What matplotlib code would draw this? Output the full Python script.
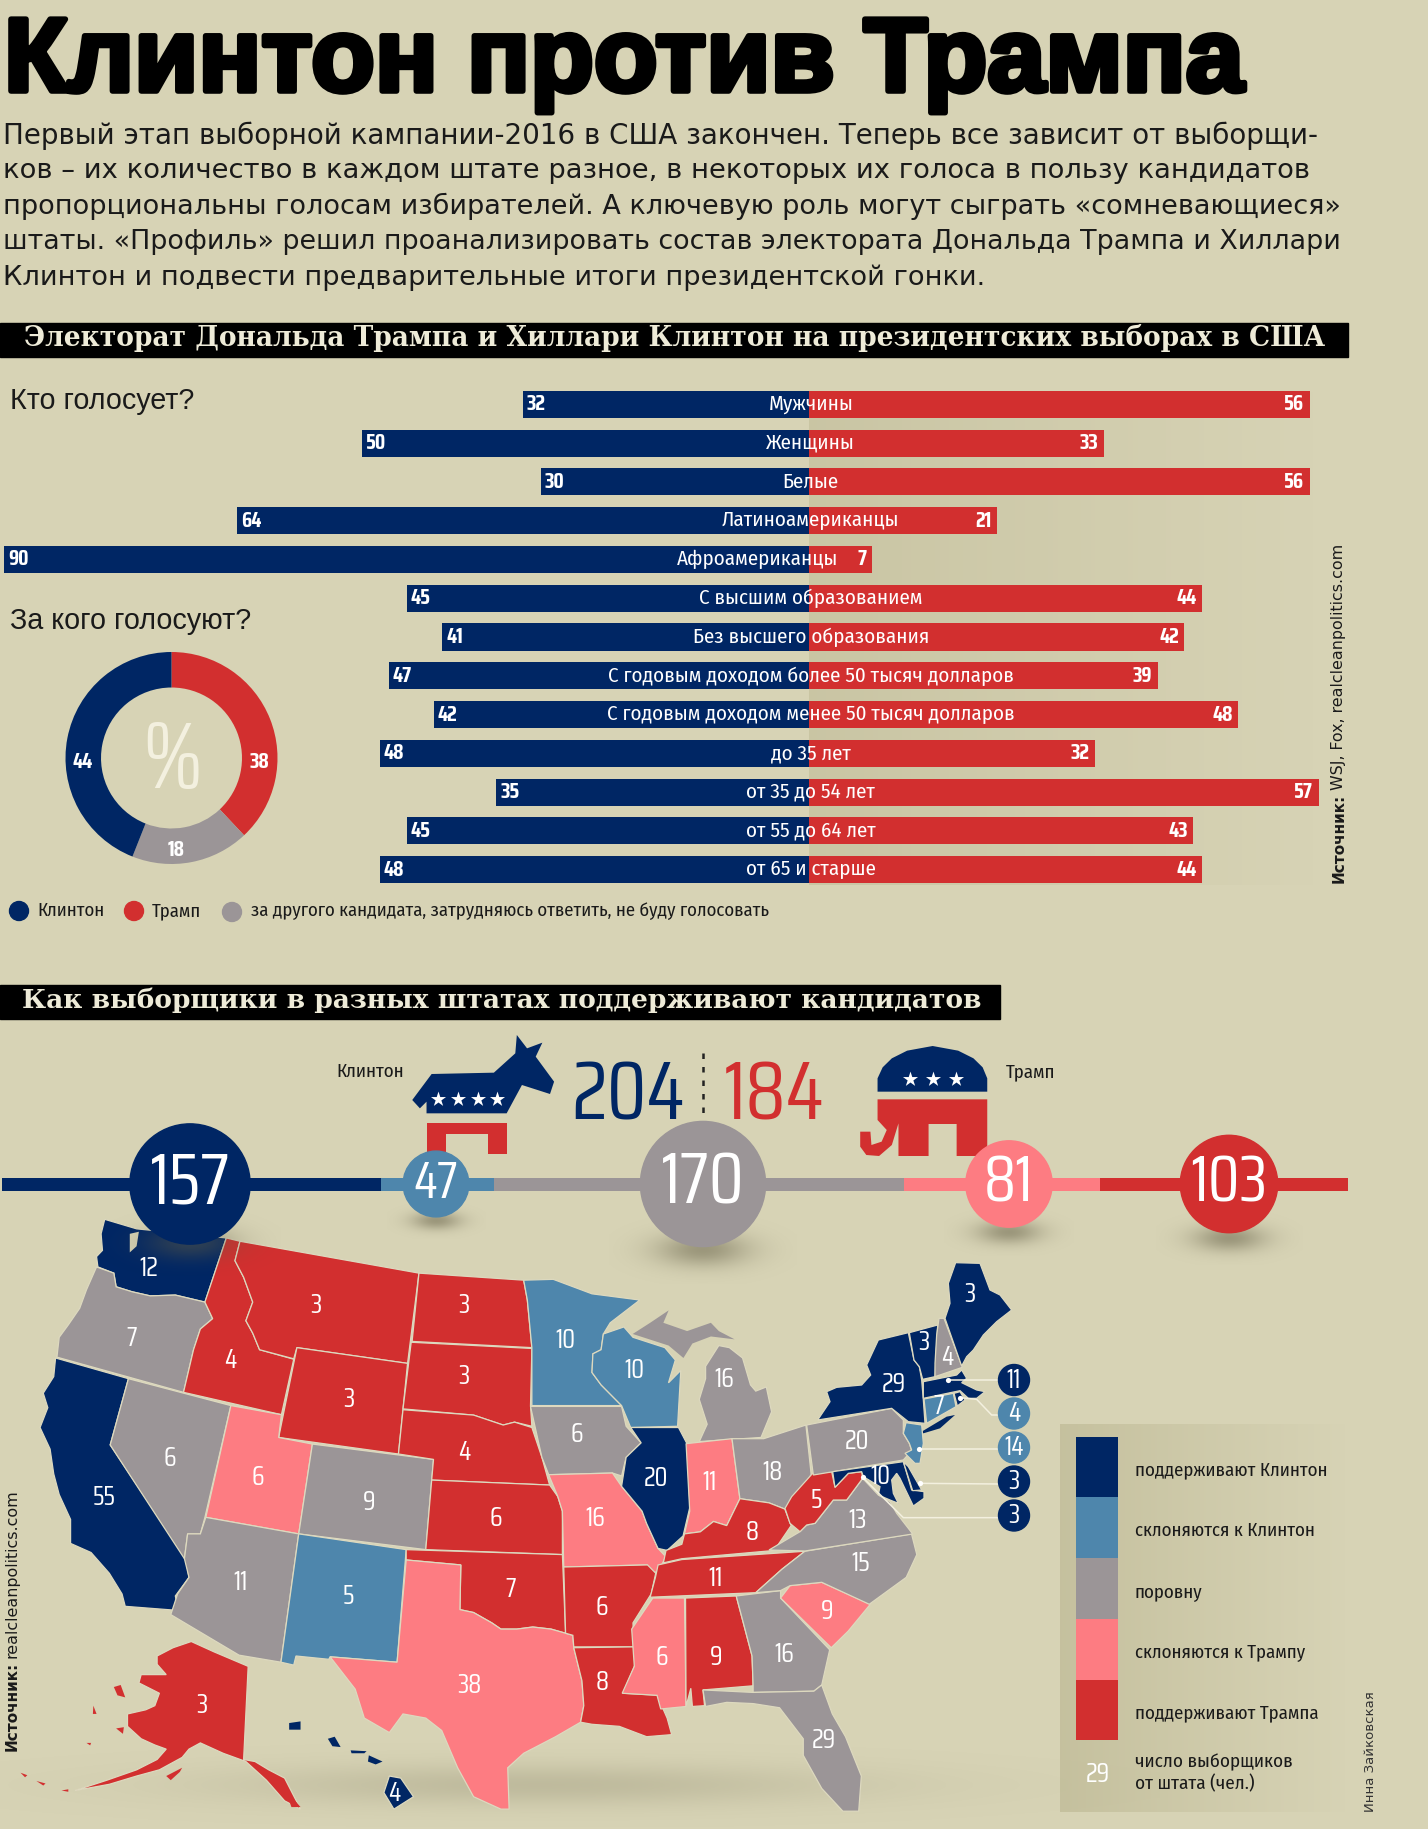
import numpy as np
import matplotlib
matplotlib.use('Agg')
import matplotlib.pyplot as plt
from matplotlib.patches import Polygon, Circle, Rectangle
import matplotlib.patheffects as pe

# data
groups = ['Мужчины', 'Женщины', 'Белые', 'Латиноамериканцы', 'Афроамериканцы', 'С высшим образованием',
          'Без высшего образования', 'С годовым доходом более 50 тысяч долларов',
          'С годовым доходом менее 50 тысяч долларов', 'до 35 лет', 'от 35 до 54 лет', 'от 55 до 64 лет', 'от 65 и старше']
clinton = [32, 50, 30, 64, 90, 45, 41, 47, 42, 48, 35, 45, 48]
trump = [56, 33, 56, 21, 7, 44, 42, 39, 48, 32, 57, 43, 44]
donut_vals = [38, 18, 44]
level_vals = [157, 47, 170, 81, 103]
level_names = ['поддерживают Клинтон', 'склоняются к Клинтон', 'поровну', 'склоняются к Трампу', 'поддерживают Трампа']
total_clinton = 204
total_trump = 184

state_names = ['WA', 'OR', 'CA', 'NV', 'ID', 'MT', 'WY', 'UT', 'CO', 'AZ', 'NM', 'ND', 'SD', 'NE', 'KS', 'OK', 'TX',
               'MN', 'IA', 'MO', 'AR', 'LA', 'WI', 'IL', 'AK', 'HI',
               'MI', 'IN', 'OH', 'KY', 'TN', 'MS', 'AL', 'GA', 'SC', 'NC', 'VA', 'WV', 'PA', 'NY', 'NJ', 'MD', 'DE',
               'VT', 'NH', 'ME', 'MA', 'CT', 'RI', 'FL']
state_votes = [12, 7, 55, 6, 4, 3, 3, 6, 9, 11, 5, 3, 3, 4, 6, 7, 38,
               10, 6, 16, 6, 8, 10, 20, 3, 4,
               16, 11, 18, 8, 11, 6, 9, 16, 9, 15, 13, 5, 20, 29, 14, 10, 3,
               3, 4, 3, 11, 7, 4, 29]
# 0 Clinton, 1 leaning Clinton, 2 even, 3 leaning Trump, 4 Trump
state_level = [0, 2, 0, 2, 4, 4, 4, 3, 2, 2, 1, 4, 4, 4, 4, 4, 3,
               1, 2, 3, 4, 4, 1, 0, 4, 0,
               2, 3, 2, 4, 4, 3, 4, 2, 3, 2, 2, 4, 2, 0, 1, 0, 0,
               0, 2, 0, 0, 1, 0, 2]
side_votes = [11, 4, 14, 3, 3]
side_level = [0, 1, 1, 0, 0]

bg = '#d7d3b5'
navy = '#002664'
blue = '#4e86ac'
grey = '#9b9597'
pink = '#fd7c82'
red = '#d22f2f'
ink = '#1a1a1a'
level_cols = [navy, blue, grey, pink, red]

text_font = ['Fira Sans Condensed', 'PT Sans Narrow', 'Roboto']
digit_font = ['Saira Condensed', 'Barlow Condensed', 'Roboto']

W, H = 1428, 1829
fig = plt.figure(figsize=(W / 100, H / 100), dpi=100, facecolor=bg)


def px_axes(z):
    a = fig.add_axes([0, 0, 1, 1], zorder=z)
    a.set_xlim(0, W)
    a.set_ylim(H, 0)
    a.set_autoscale_on(False)
    a.axis('off')
    a.patch.set_alpha(0)
    return a


ax = px_axes(0)
top = px_axes(3)


def z1(p):
    return [(x / 2.196, 1180 + y / 2.416) for x, y in p]


def z2(p):
    return [(600 + x / 1.894, 1180 + y / 2.416) for x, y in p]


def z3(p):
    return [(300 + x / 1.96, 1020 + y / 3) for x, y in p]


def z4(p):
    return [(780 + x / 3, 1260 + y / 3) for x, y in p]


def shadow(a, cx, cy, rx, ry, alpha, col=(0.38, 0.36, 0.26), z=1):
    xx, yy = np.meshgrid(np.linspace(-1, 1, 80), np.linspace(-1, 1, 80))
    img = np.zeros((80, 80, 4))
    img[..., :3] = col
    img[..., 3] = alpha * np.exp(-(xx ** 2 + yy ** 2) * 4)
    a.imshow(img, extent=(cx - rx, cx + rx, cy + ry, cy - ry), aspect='auto', zorder=z, interpolation='bilinear')


def fade(a, x0, x1, y0, y1, alpha, z=0.5, col=(0.72, 0.70, 0.55)):
    img = np.zeros((2, 100, 4))
    img[..., :3] = col
    img[..., 3] = np.linspace(alpha, 0, 100)
    a.imshow(img, extent=(x0, x1, y1, y0), aspect='auto', zorder=z, interpolation='bilinear')


# header
ax.text(4, 91, 'Клинтон против Трампа', family='Liberation Sans', weight='bold', fontsize=75.2, color='black', va='baseline',
        path_effects=[pe.withStroke(linewidth=4, foreground='black')])
intro = ['Первый этап выборной кампании-2016 в США закончен. Теперь все зависит от выборщи-',
         'ков – их количество в каждом штате разное, в некоторых их голоса в пользу кандидатов',
         'пропорциональны голосам избирателей. А ключевую роль могут сыграть «сомневающиеся»',
         'штаты. «Профиль» решил проанализировать состав электората Дональда Трампа и Хиллари',
         'Клинтон и подвести предварительные итоги президентской гонки.']
intro_size = [20, 19.7, 19.55, 19.4, 19.65]
for i, line in enumerate(intro):
    ax.text(3, 136 + i * 35.4, line, family='DejaVu Sans', fontsize=intro_size[i], color=ink, va='center')

ax.add_patch(Rectangle((0, 323), 1348, 34, color='black', zorder=1))
ax.text(24, 338, 'Электорат Дональда Трампа и Хиллари Клинтон на президентских выборах в США', family='DejaVu Serif',
        weight='bold', fontsize=19.1, color='#eeebd8', va='center', zorder=2)
ax.add_patch(Rectangle((0, 985), 1000, 34, color='black', zorder=1))
ax.text(22, 1000, 'Как выборщики в разных штатах поддерживают кандидатов', family='DejaVu Serif',
        weight='bold', fontsize=19.05, color='#eeebd8', va='center', zorder=2)

ax.text(10, 401, 'Кто голосует?', family='Liberation Sans', fontsize=20.7, color=ink, va='center')
ax.text(10, 621, 'За кого голосуют?', family='Liberation Sans', fontsize=20.7, color=ink, va='center')

# bars
fade(ax, 809, 1320, 392, 885, 0.42)
ax_b = fig.add_axes([0, 1 - 889 / H, 1, 504 / H], zorder=1)
ax_b.patch.set_alpha(0)
ax_b.set_xlim(-809 / 8.94, (W - 809) / 8.94)
ax_b.set_ylim(12.5, -0.5)
ax_b.axis('off')
y = np.arange(len(groups))
ax_b.barh(y, -np.array(clinton), height=0.7, color=navy)
ax_b.barh(y, trump, height=0.7, color=red)
for i in y:
    ax_b.text(-clinton[i] + 0.45, i, str(clinton[i]), color='white', family=digit_font, weight='bold', fontsize=15.5, va='center', ha='left')
    ax_b.text(trump[i] - 0.6, i, str(trump[i]), color='white', family=digit_font, weight='bold', fontsize=15.5, va='center', ha='right')
    # long African American label sits left, so the value 7 stays free
    shift = -5.8 if trump[i] < 10 else 0.2
    ax_b.text(shift, i, groups[i], color='white', family=text_font, fontsize=15.1, va='center', ha='center')

# donut
ax_d = fig.add_axes([(171.5 - 106) / W, 1 - (758 + 106) / H, 212 / W, 212 / H], zorder=1)
ax_d.pie(donut_vals, colors=[red, grey, navy], startangle=90, counterclock=False, radius=1, wedgeprops={'width': 0.335})
ax_d.set_xlim(-1, 1)
ax_d.set_ylim(-1, 1)
for v, (tx, ty) in zip(donut_vals, [(259, 762), (176, 850), (83, 762)]):
    top.text(tx, ty, str(v), color='white', family=digit_font, weight='bold', fontsize=15.5, ha='center', va='center', zorder=3)
top.text(172, 762, '%', family=digit_font, fontsize=68, color='#f3f0df', ha='center', va='center', zorder=3)

ax.add_patch(Circle((19, 911), 9.5, color=navy))
ax.text(37, 911, 'Клинтон', family=text_font, fontsize=13.5, color=ink, va='center')
ax.add_patch(Circle((134, 911), 9.5, color=red))
ax.text(152, 911, 'Трамп', family=text_font, fontsize=13.5, color=ink, va='center')
ax.add_patch(Circle((232, 912), 9.5, color=grey))
ax.text(251, 911, 'за другого кандидата, затрудняюсь ответить, не буду голосовать', family=text_font, fontsize=13.5, color=ink, va='center')

ax.text(1339, 883, 'Источник:', family='DejaVu Sans', weight='bold', fontsize=11, rotation=90, color=ink, ha='center', va='bottom')
ax.text(1339, 790, 'WSJ, Fox, realcleanpolitics.com', family='DejaVu Sans', fontsize=11.4, rotation=90, color=ink, ha='center', va='bottom')

# candidates row
ax.text(370, 1072, 'Клинтон', family=text_font, fontsize=13.6, color=ink, ha='center', va='center')
ax.text(1031, 1072, 'Трамп', family=text_font, fontsize=13.6, color=ink, ha='center', va='center')
ax.text(628, 1096, str(total_clinton), family=digit_font, fontsize=59, color=navy, ha='center', va='center')
ax.text(774, 1096, str(total_trump), family=digit_font, fontsize=59, color=red, ha='center', va='center')
ax.plot([703, 703], [1053, 1118], color='#222222', lw=1.8, ls=(0, (2.2, 3.2)))

donkey = [(220, 240), (258, 162), (380, 158), (422, 100), (425, 45), (445, 85), (475, 68), (462, 110), (498, 185),
          (490, 222), (435, 195), (405, 280), (248, 280), (248, 245), (235, 265)]
donkey_legs = [(248, 308), (406, 308), (406, 402), (368, 402), (368, 342), (287, 342), (287, 402), (248, 402)]
eleph_top = [(1132, 215), (1132, 175), (1142, 142), (1160, 115), (1190, 92), (1240, 78), (1290, 92), (1320, 115),
             (1338, 142), (1347, 175), (1347, 215)]
eleph = [(1132, 238), (1347, 238), (1347, 408), (1287, 408), (1287, 312), (1232, 312), (1232, 408), (1173, 408),
         (1173, 310), (1160, 375), (1135, 408), (1110, 405), (1098, 380), (1098, 335), (1118, 335), (1120, 375),
         (1140, 365), (1150, 330), (1132, 300)]
ax.add_patch(Polygon(z3(donkey), color=navy, lw=0))
ax.add_patch(Polygon(z3(donkey_legs), color=red, lw=0))
ax.add_patch(Polygon(z3(eleph_top), color=navy, lw=0))
ax.add_patch(Polygon(z3(eleph), color=red, lw=0))
sx, sy = zip(*z3([(270, 237), (310, 237), (348, 237), (387, 237), (1196, 177), (1240, 177), (1285, 177)]))
ax.scatter(sx, sy, marker='*', s=130, color='white', lw=0, zorder=3)

# level line, one unit = 2.41 px
ax_t = fig.add_axes([2 / W, 1 - 1191 / H, 1346 / W, 13 / H], zorder=1)
ax_t.patch.set_alpha(0)
ax_t.set_xlim(0, sum(level_vals))
ax_t.set_ylim(-0.5, 0.5)
ax_t.axis('off')
ax_t.barh(0, level_vals, left=np.cumsum([0] + level_vals[:-1]), height=1, color=level_cols)

# map
west = {
    'WA': [(230, 95), (300, 118), (497, 140), (450, 295), (385, 278), (330, 280), (290, 270), (255, 258), (250, 225), (215, 210), (212, 185), (225, 170), (222, 130)],
    'OR': [(212, 210), (250, 225), (255, 258), (290, 270), (330, 280), (385, 278), (450, 295), (467, 335), (440, 360), (425, 410), (403, 513), (125, 428), (130, 380), (150, 350), (175, 310), (190, 265)],
    'CA': [(122, 430), (282, 480), (242, 640), (408, 915), (415, 960), (385, 1005), (392, 1040), (275, 1030), (268, 1000), (240, 950), (200, 900), (155, 878), (155, 820), (130, 760), (118, 710), (110, 650), (88, 598), (105, 550), (95, 515), (118, 475)],
    'NV': [(282, 480), (507, 545), (450, 815), (440, 855), (412, 855), (405, 915), (242, 640)],
    'ID': [(497, 140), (527, 148), (516, 195), (535, 235), (555, 295), (540, 340), (555, 370), (570, 410), (645, 433), (618, 567), (403, 513), (425, 410), (440, 360), (467, 335), (450, 295)],
    'MT': [(527, 148), (920, 225), (895, 443), (652, 405), (645, 432), (570, 410), (555, 370), (540, 340), (555, 295), (535, 235), (516, 195)],
    'WY': [(652, 405), (895, 443), (875, 662), (612, 622)],
    'UT': [(507, 545), (618, 567), (612, 622), (686, 638), (656, 855), (452, 815)],
    'CO': [(686, 638), (952, 675), (935, 893), (656, 855)],
    'AZ': [(452, 815), (656, 855), (617, 1165), (525, 1148), (375, 1050), (390, 1000), (415, 960), (405, 915), (412, 855), (440, 855)],
    'NM': [(656, 855), (892, 893), (872, 1165), (725, 1152), (722, 1158), (650, 1150), (645, 1172), (617, 1165)],
    'ND': [(920, 225), (1150, 242), (1158, 290), (1168, 405), (905, 390)],
    'SD': [(903, 392), (1168, 407), (1165, 545), (1168, 595), (1130, 585), (1105, 592), (1040, 568), (885, 553)],
    'NE': [(885, 555), (1040, 568), (1105, 592), (1130, 585), (1168, 598), (1190, 670), (1207, 737), (948, 725), (952, 675), (875, 662)],
    'KS': [(948, 725), (1207, 737), (1225, 765), (1235, 800), (1235, 905), (935, 893)],
    'OK': [(892, 893), (1235, 905), (1242, 1095), (1210, 1085), (1170, 1080), (1135, 1085), (1100, 1085), (1080, 1070), (1040, 1045), (1010, 1038), (1012, 930), (892, 918)],
    'TX': [(892, 918), (1012, 930), (1010, 1038), (1040, 1045), (1080, 1070), (1100, 1085), (1135, 1085), (1170, 1080), (1210, 1085), (1242, 1095), (1258, 1100), (1260, 1130), (1278, 1210), (1282, 1270), (1275, 1310), (1220, 1345), (1150, 1385), (1115, 1420), (1118, 1520), (1100, 1520), (1040, 1490), (1005, 1420), (970, 1330), (935, 1300), (885, 1290), (855, 1335), (800, 1300), (780, 1230), (725, 1152), (872, 1165)],
    'MN': [(1150, 242), (1215, 240), (1300, 275), (1405, 290), (1340, 345), (1325, 372), (1320, 410), (1302, 420), (1300, 465), (1320, 495), (1365, 545), (1168, 545), (1168, 405), (1158, 290)],
    'IA': [(1165, 547), (1365, 547), (1375, 595), (1408, 635), (1375, 670), (1365, 715), (1345, 708), (1205, 712), (1190, 670)],
    'MO': [(1205, 712), (1345, 708), (1365, 740), (1410, 800), (1420, 830), (1445, 890), (1462, 910), (1445, 948), (1420, 945), (1422, 930), (1238, 935), (1235, 800), (1225, 765)],
    'AR': [(1238, 935), (1422, 930), (1440, 950), (1430, 1000), (1390, 1070), (1392, 1128), (1260, 1128), (1258, 1100), (1242, 1095)],
    'LA': [(1260, 1130), (1392, 1128), (1395, 1170), (1368, 1240), (1448, 1245), (1455, 1275), (1465, 1300), (1475, 1340), (1420, 1345), (1360, 1320), (1300, 1315), (1275, 1310), (1282, 1270), (1278, 1210)],
    'WI': [(1325, 372), (1370, 355), (1390, 380), (1460, 405), (1483, 435), (1468, 490), (1495, 460), (1488, 595), (1385, 598), (1365, 545), (1320, 495), (1300, 465), (1302, 420), (1320, 410)],
    'IL': [(1385, 598), (1490, 598), (1510, 640), (1515, 790), (1500, 860), (1465, 895), (1445, 890), (1420, 830), (1410, 800), (1365, 740), (1375, 670), (1408, 635)],
    'AK': [(345, 1150), (380, 1130), (420, 1115), (470, 1140), (545, 1175), (535, 1400), (560, 1405), (590, 1425), (625, 1445), (660, 1520), (625, 1500), (585, 1450), (540, 1405), (490, 1385), (440, 1360), (415, 1375), (400, 1395), (350, 1425), (300, 1440), (240, 1460), (165, 1475), (235, 1450), (300, 1425), (345, 1400), (365, 1375), (340, 1365), (310, 1350), (280, 1320), (280, 1290), (320, 1280), (340, 1270), (350, 1240), (305, 1215), (310, 1195), (365, 1195), (345, 1170)],
    'HI': [(855, 1440), (880, 1445), (908, 1490), (865, 1520), (843, 1480)],
}
east = {
    'MI': [(225, 400), (245, 405), (270, 430), (285, 495), (295, 510), (315, 500), (325, 560), (305, 622), (188, 632), (203, 590), (188, 530), (200, 480), (200, 450)],
    'IN': [(163, 637), (250, 625), (265, 770), (240, 835), (215, 825), (190, 850), (160, 855), (170, 800)],
    'OH': [(250, 625), (310, 625), (390, 592), (400, 712), (375, 760), (350, 795), (320, 780), (265, 770)],
    'KY': [(265, 770), (320, 780), (350, 795), (362, 835), (330, 895), (155, 915), (120, 925), (125, 895), (155, 880), (160, 855), (190, 850), (215, 825), (240, 835)],
    'TN': [(110, 930), (155, 917), (388, 897), (345, 940), (295, 997), (95, 1008), (105, 960)],
    'MS': [(100, 1010), (160, 1010), (163, 1272), (115, 1278), (108, 1245), (42, 1240), (65, 1175), (60, 1085)],
    'AL': [(162, 1010), (258, 1005), (288, 1150), (290, 1222), (195, 1232), (198, 1270), (175, 1272), (172, 1228), (163, 1272)],
    'GA': [(258, 1005), (342, 992), (342, 1010), (435, 1135), (420, 1220), (405, 1235), (290, 1238), (290, 1222), (288, 1150)],
    'SC': [(342, 1010), (360, 980), (420, 972), (512, 1025), (470, 1090), (438, 1130)],
    'NC': [(388, 897), (590, 855), (600, 905), (580, 960), (510, 1025), (420, 972), (360, 980), (342, 992), (295, 997), (345, 940)],
    'FL': [(195, 1232), (290, 1238), (405, 1235), (420, 1220), (440, 1290), (465, 1345), (495, 1440), (490, 1525), (460, 1525), (420, 1470), (385, 1390), (385, 1350), (340, 1275), (290, 1265), (240, 1262), (200, 1272)],
}
north_east = {
    'ME': [(527, 8), (600, 10), (630, 90), (660, 105), (695, 150), (650, 185), (610, 225), (580, 270), (560, 290), (545, 318), (495, 175), (510, 130), (505, 70)],
    'NH': [(477, 175), (492, 175), (547, 322), (465, 350), (465, 310), (470, 225)],
    'VT': [(388, 218), (473, 195), (465, 350), (428, 358), (418, 320), (402, 300)],
    'NY': [(113, 480), (150, 425), (140, 395), (170, 382), (245, 375), (272, 345), (260, 315), (295, 240), (385, 218), (402, 300), (418, 320), (425, 360), (430, 420), (435, 490), (385, 485), (335, 445)],
    'MA': [(430, 365), (530, 345), (545, 330), (560, 355), (545, 368), (590, 390), (615, 395), (590, 415), (565, 415), (540, 392), (430, 415)],
    'CT': [(432, 417), (520, 400), (528, 440), (440, 490)],
    'RI': [(522, 400), (540, 395), (555, 420), (532, 438)],
    'NJ': [(378, 488), (425, 495), (430, 550), (420, 610), (405, 610), (375, 580), (395, 570), (388, 550), (370, 520)],
    'PA': [(80, 495), (335, 445), (370, 480), (370, 520), (388, 550), (395, 572), (370, 600), (100, 645)],
    'WV': [(98, 640), (155, 635), (165, 682), (205, 640), (245, 635), (248, 655), (200, 720), (160, 720), (105, 790), (80, 795), (60, 815), (30, 790), (15, 745), (35, 710)],
    'MD': [(158, 635), (370, 605), (395, 690), (432, 695), (432, 715), (400, 738), (360, 655), (350, 640), (335, 660), (340, 700), (355, 730), (330, 720), (295, 705), (300, 680), (250, 650), (245, 635), (205, 640), (165, 682)],
    'DE': [(370, 605), (385, 620), (425, 690), (398, 692)],
    'VA': [(-33, 870), (60, 815), (80, 795), (105, 790), (160, 720), (200, 720), (248, 655), (295, 705), (330, 725), (350, 760), (385, 805), (398, 822), (75, 873)],
}
# extra pieces with the colour of the state they belong to
bits = {
    'HI': (z1, [[(635, 1312), (660, 1308), (660, 1328), (635, 1328)], [(720, 1350), (735, 1345), (748, 1370), (730, 1368)],
                [(770, 1378), (805, 1380), (800, 1385), (772, 1385)], [(810, 1390), (840, 1405), (825, 1412), (808, 1405)]]),
    'AK': (z1, [[(250, 1225), (265, 1220), (275, 1250), (258, 1245)], [(205, 1270), (212, 1290), (204, 1290)],
                [(255, 1325), (272, 1322), (270, 1338)], [(190, 1360), (200, 1360), (198, 1366)],
                [(365, 1440), (400, 1420), (395, 1430), (375, 1450)], [(625, 1470), (660, 1515), (640, 1515)],
                [(135, 1475), (150, 1472), (150, 1478)], [(80, 1452), (100, 1458), (95, 1463)], [(45, 1432), (60, 1438), (55, 1443)]]),
    'MI': (z2, [[(62, 372), (95, 345), (130, 315), (120, 345), (165, 365), (210, 345), (225, 365), (255, 385), (210, 378), (175, 395), (158, 430), (130, 400)]]),
    'NY': (z4, [[(425, 515), (500, 470), (525, 465), (480, 505), (430, 520)]]),
}
labels = {
    'WA': (z1, 327, 215), 'OR': (z1, 290, 382), 'CA': (z1, 228, 767), 'NV': (z1, 372, 672), 'ID': (z1, 505, 436), 'MT': (z1, 693, 304),
    'WY': (z1, 765, 531), 'UT': (z1, 567, 718), 'CO': (z1, 810, 780), 'AZ': (z1, 528, 972), 'NM': (z1, 765, 1006), 'ND': (z1, 1019, 304),
    'SD': (z1, 1019, 474), 'NE': (z1, 1019, 658), 'KS': (z1, 1089, 818), 'OK': (z1, 1122, 990), 'TX': (z1, 1031, 1221), 'MN': (z1, 1241, 387),
    'IA': (z1, 1267, 615), 'MO': (z1, 1308, 819), 'AR': (z1, 1322, 1033), 'LA': (z1, 1322, 1213), 'WI': (z1, 1393, 461), 'IL': (z1, 1440, 720),
    'AK': (z1, 443, 1270), 'HI': (z1, 867, 1482),
    'MI': (z2, 236, 481), 'IN': (z2, 208, 730), 'OH': (z2, 326, 706), 'KY': (z2, 288, 852), 'TN': (z2, 219, 962), 'MS': (z2, 117, 1153),
    'AL': (z2, 219, 1153), 'GA': (z2, 348, 1147), 'SC': (z2, 430, 1043), 'NC': (z2, 493, 926), 'FL': (z2, 423, 1354),
    'VA': (z4, 232, 783), 'WV': (z4, 108, 722), 'PA': (z4, 230, 545), 'NY': (z4, 342, 375), 'MD': (z4, 302, 648), 'VT': (z4, 430, 248),
    'NH': (z4, 502, 293), 'ME': (z4, 570, 105), 'CT': (z4, 477, 438),
}

shadow(ax, 540, 1785, 620, 42, 0.32, col=(0.55, 0.53, 0.42), z=0.6)
for i, name in enumerate(state_names):
    if name in west:
        conv, shape = z1, west[name]
    elif name in east:
        conv, shape = z2, east[name]
    else:
        conv, shape = z4, north_east[name]
    col = level_cols[state_level[i]]
    top.add_patch(Polygon(conv(shape), facecolor=col, edgecolor='#ddd9bf', lw=0.9, zorder=2))
    if name in bits:
        for piece in bits[name][1]:
            top.add_patch(Polygon(bits[name][0](piece), facecolor=col, edgecolor='none', zorder=2))
    if name in labels:
        c, lx, ly = labels[name]
        p = c([(lx, ly)])[0]
        top.text(p[0], p[1], str(state_votes[i]), family=digit_font, fontsize=19, color='white', ha='center', va='center', zorder=4)
# Puget Sound
top.add_patch(Polygon(z1([(285, 130), (305, 125), (300, 160), (285, 175)]), facecolor=bg, edgecolor='none', zorder=2.5))

# leader lines and side circles
lines = [[(505, 360), (655, 360)], [(540, 413), (590, 418), (635, 465), (655, 465)], [(418, 568), (655, 568)],
         [(420, 670), (655, 672)], [(248, 652), (370, 773), (655, 773)]]
side_y = [1380, 1413.5, 1447.5, 1481.5, 1515.5]
for i, v in enumerate(side_votes):
    lx, ly = zip(*z4(lines[i]))
    top.plot(lx, ly, color='#f3f0df', lw=1.1, zorder=5)
    top.scatter(lx[0], ly[0], s=14, color='white', lw=0, zorder=6)
    top.add_patch(Circle((1014, side_y[i]), 15.5, color=level_cols[side_level[i]], zorder=6))
    top.text(1014, side_y[i], str(v), family=digit_font, fontsize=19, color='white', ha='center', va='center', zorder=7)

# big circles, area goes with value
centre_x = [190, 436, 703, 1009, 1229]
shadow_y = [1243, 1221, 1250, 1232, 1238]
for i, v in enumerate(level_vals):
    r = 4.8 * np.sqrt(v)
    shadow(top, centre_x[i], shadow_y[i], r * 1.5, r * 0.55, 0.5, z=3)
    top.add_patch(Circle((centre_x[i], 1184), r, color=level_cols[i], zorder=8))
    fs = 52 if r > 55 else (37 if v < 60 else 47)
    top.text(centre_x[i], 1183, str(v), family=digit_font, fontsize=fs, color='white', ha='center', va='center', zorder=9)

# legend
fade(ax, 1060, 1348, 1424, 1812, 0.55, z=0.7)
edges = [620, 767, 913, 1060, 1207, 1353]
for i, n in enumerate(level_names):
    box = z2([(902, edges[i]), (981, edges[i + 1])])
    ax.add_patch(Rectangle(box[0], box[1][0] - box[0][0], box[1][1] - box[0][1], color=level_cols[i], lw=0, zorder=2))
    ty = z2([(0, (edges[i] + edges[i + 1]) / 2 + 8)])[0][1]
    ax.text(1135, ty, n, family=text_font, fontsize=13.6, color=ink, va='center', zorder=3)
ax.text(1098, 1775, '29', family=digit_font, fontsize=19, color='white', ha='center', va='center', zorder=3)
ax.text(1135, 1773, 'число выборщиков\nот штата (чел.)', family=text_font, fontsize=13.8, color=ink, va='center', linespacing=1.25, zorder=3)

ax.text(12, 1751, 'Источник:', family='DejaVu Sans', weight='bold', fontsize=11, rotation=90, color=ink, ha='center', va='bottom')
ax.text(12, 1658, 'realcleanpolitics.com', family='DejaVu Sans', fontsize=11.4, rotation=90, color=ink, ha='center', va='bottom')
ax.text(1371, 1812, 'Инна Зайковская', family='DejaVu Sans', fontsize=9.5, rotation=90, color='#333333', ha='center', va='bottom')

fig.savefig('out.png', dpi=100, facecolor=bg)
